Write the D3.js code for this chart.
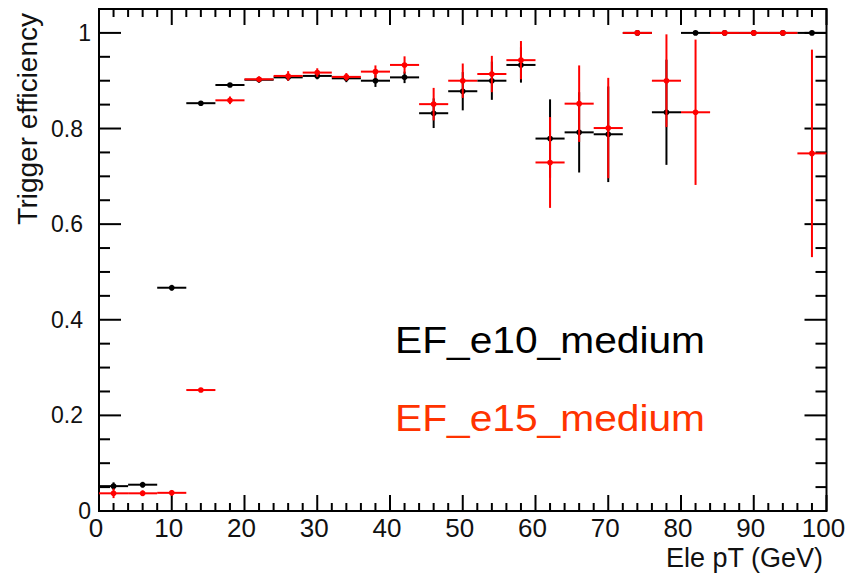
<!DOCTYPE html>
<html>
<head>
<meta charset="utf-8">
<script src="https://cdn.jsdelivr.net/npm/d3@7"></script>
<style>
  body { margin: 0; background: #fff; }
  text { font-family: "Liberation Sans", Arial, sans-serif; }
</style>
</head>
<body>
<svg width="845" height="577"></svg>
<script>
// bin centres (4 GeV wide bins)
var binCenters = [2, 6, 10, 14, 18, 22, 26, 30, 34, 38, 42, 46, 50, 54, 58, 62, 66, 70, 74, 78, 82, 86, 90, 94, 98];
var binHalfWidth = 2;

// EF_e10_medium
var e10Eff = [0.052, 0.055, 0.467, 0.853, 0.891, 0.902, 0.907, 0.910, 0.905, 0.900, 0.907, 0.832, 0.878,
              0.900, 0.933, 0.779, 0.792, 0.788, 1.0, 0.834, 1.0, 1.0, 1.0, 1.0, 1.0];
var e10Err = [0.008, 0.006, 0.006, 0.004, 0.004, 0.006, 0.007, 0.007, 0.008, 0.013, 0.012, 0.031, 0.04,
              0.04, 0.037, 0.082, 0.084, 0.1, 0, 0.11, 0, 0, 0, 0, 0];

// EF_e15_medium
var e15Eff = [0.037, 0.037, 0.038, 0.253, 0.859, 0.903, 0.910, 0.917, 0.908, 0.919, 0.933, 0.851, 0.900,
              0.914, 0.943, 0.729, 0.852, 0.801, 1.0, 0.900, 0.834, 1.0, 1.0, 1.0, 0.748];
var e15Err = [0.01, 0.006, 0.006, 0.003, 0.008, 0.006, 0.01, 0.009, 0.008, 0.013, 0.018, 0.034, 0.036,
              0.038, 0.04, 0.095, 0.08, 0.105, 0, 0.097, 0.152, 0, 0, 0, 0.217];

var xMajor = [0, 10, 20, 30, 40, 50, 60, 70, 80, 90, 100];
var yMajor = [0, 0.2, 0.4, 0.6, 0.8, 1];
var yLabels = ['0', '0.2', '0.4', '0.6', '0.8', '1'];

var series = [
  { name: 'EF_e10_medium', eff: e10Eff, err: e10Err, color: '#000000', text: '#000000' },
  { name: 'EF_e15_medium', eff: e15Eff, err: e15Err, color: '#ff0000', text: '#ff3300' }
];

var svg = d3.select('svg'),
    pLeft = 99, pRight = 826.5, pTop = 9, pBottom = 511;

var x = d3.scaleLinear().domain([0, 100]).range([pLeft, pRight]),
    y = d3.scaleLinear().domain([0, 1.05]).range([pBottom, pTop]);

var xMinor = d3.range(0, 101, 2).filter(function(d) { return d % 10 !== 0; }),
    yMinor = d3.range(0, 21).map(function(i) { return i * 0.05; })
               .filter(function(d, i) { return i % 4 !== 0; });

var ticks = svg.append('g').attr('stroke', '#000').attr('stroke-width', 2);

// x ticks, bottom and top (pointing inward)
function xTicks(vals, len) {
  ticks.selectAll(null).data(vals).enter().append('line')
    .attr('x1', function(d) { return x(d); }).attr('x2', function(d) { return x(d); })
    .attr('y1', pBottom).attr('y2', pBottom - len);
  ticks.selectAll(null).data(vals).enter().append('line')
    .attr('x1', function(d) { return x(d); }).attr('x2', function(d) { return x(d); })
    .attr('y1', pTop).attr('y2', pTop + len);
}
xTicks(xMajor, 16);
xTicks(xMinor, 8);

// y ticks, left and right
function yTicks(vals, len) {
  ticks.selectAll(null).data(vals).enter().append('line')
    .attr('y1', function(d) { return y(d); }).attr('y2', function(d) { return y(d); })
    .attr('x1', pLeft).attr('x2', pLeft + len);
  ticks.selectAll(null).data(vals).enter().append('line')
    .attr('y1', function(d) { return y(d); }).attr('y2', function(d) { return y(d); })
    .attr('x1', pRight).attr('x2', pRight - len);
}
yTicks(yMajor, 22);
yTicks(yMinor, 11);

// frame
svg.append('rect')
  .attr('x', pLeft).attr('y', pTop)
  .attr('width', pRight - pLeft).attr('height', pBottom - pTop)
  .attr('fill', 'none').attr('stroke', '#000').attr('stroke-width', 2);

// tick labels
svg.append('g').selectAll('text').data(xMajor).enter().append('text')
  .attr('x', function(d) { return x(d) - 3; })
  .attr('y', 537)
  .attr('text-anchor', 'middle')
  .attr('font-size', 26)
  .attr('fill', '#111')
  .text(function(d) { return d; });

svg.append('g').selectAll('text').data(yMajor).enter().append('text')
  .attr('x', function(d, i) { return yLabels[i].length === 1 ? 91 : 83; })
  .attr('y', function(d) { return y(d) + 8; })
  .attr('text-anchor', 'end')
  .attr('font-size', 23)
  .attr('fill', '#111')
  .text(function(d, i) { return yLabels[i]; });

// axis titles
svg.append('text')
  .attr('x', 823).attr('y', 567)
  .attr('text-anchor', 'end')
  .attr('font-size', 27)
  .attr('fill', '#111')
  .text('Ele pT (GeV)');

svg.append('text')
  .attr('transform', 'translate(37,13) rotate(-90)')
  .attr('text-anchor', 'end')
  .attr('font-size', 28)
  .attr('fill', '#111')
  .text('Trigger efficiency');

// points with error bars
series.forEach(function(s) {
  var g = svg.append('g').attr('stroke', s.color).attr('fill', s.color);
  var pts = g.selectAll('g').data(binCenters).enter().append('g');
  pts.append('line')
    .attr('x1', function(d) { return x(d - binHalfWidth); })
    .attr('x2', function(d) { return x(d + binHalfWidth); })
    .attr('y1', function(d, i) { return y(s.eff[i]); })
    .attr('y2', function(d, i) { return y(s.eff[i]); })
    .attr('stroke-width', 2);
  pts.append('line')
    .attr('x1', function(d) { return x(d); })
    .attr('x2', function(d) { return x(d); })
    .attr('y1', function(d, i) { return y(s.eff[i] - s.err[i]); })
    .attr('y2', function(d, i) { return y(s.eff[i] + s.err[i]); })
    .attr('stroke-width', 2);
  pts.append('circle')
    .attr('cx', function(d) { return x(d); })
    .attr('cy', function(d, i) { return y(s.eff[i]); })
    .attr('r', 2.8)
    .attr('stroke', 'none');
});

// legend text
svg.append('g').selectAll('text').data(series).enter().append('text')
  .attr('x', 395)
  .attr('y', function(d, i) { return 353 + i * 78; })
  .attr('font-family', '"Open Sans", "Noto Sans", sans-serif')
  .attr('font-size', 37)
  .attr('textLength', 310)
  .attr('lengthAdjust', 'spacingAndGlyphs')
  .attr('fill', function(d) { return d.text; })
  .text(function(d) { return d.name; });
</script>
</body>
</html>
